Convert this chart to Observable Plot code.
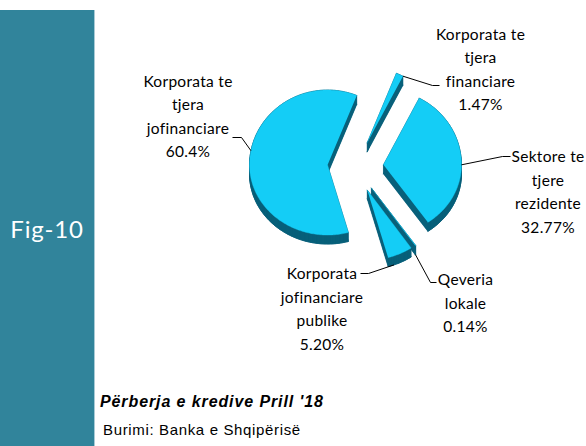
<!DOCTYPE html>
<html><head><meta charset="utf-8">
<script src="https://cdn.jsdelivr.net/npm/d3@7"></script>
<script src="https://cdn.jsdelivr.net/npm/@observablehq/plot@0.6"></script>
<style>
body{margin:0;background:#fff;}
#wrap{position:relative;width:586px;height:446px;overflow:hidden;background:#fff;}
#side{position:absolute;left:0;top:10px;width:94px;height:436px;background:#31849b;border-right:1px solid #a9cbd6;}
#fig{position:absolute;left:0;width:94px;top:214px;text-align:center;color:#fff;font:24px Lato, sans-serif;letter-spacing:0.8px;}
#chart{position:absolute;left:0;top:0;}
#chart text{letter-spacing:0.3px;}
#title{position:absolute;left:100px;top:393px;font:italic bold 16px "Liberation Sans", Arial, sans-serif;letter-spacing:0.9px;color:#000;white-space:nowrap;}
#src{position:absolute;left:103px;top:421px;font:15px "Liberation Sans", Arial, sans-serif;letter-spacing:0.65px;color:#000;white-space:nowrap;}
</style></head><body>
<div id="wrap">
  <div id="side"></div>
  <div id="fig">Fig-10</div>
  <div id="chart"></div>
  <div id="title">Përberja e kredive Prill '18</div>
  <div id="src">Burimi: Banka e Shqipërisë</div>
</div>
<script>
// ---- data ----
const sectors = ["Korporata te tjera financiare", "Sektore te tjere rezidente", "Qeveria lokale", "Korporata jofinanciare publike", "Korporata te tjera jofinanciare"];
const shares = [1.47, 32.77, 0.14, 5.20, 60.4];
const labelLines = [["Korporata te", "tjera", "financiare"], ["Sektore te", "tjere", "rezidente"], ["Qeveria", "lokale"], ["Korporata", "jofinanciare", "publike"], ["Korporata te", "tjera", "jofinanciare"]];
const pctLabels = ["1.47%", "32.77%", "0.14%", "5.20%", "60.4%"];

// ---- layout (pixel space) ----
const L = {cx: 355, cy: 166, rx: 78, ryTop: 75, ryBot: 70, depth: 9, explode: 28, startDeg: 22};
const labelPos = [
  {x: 480, y: 67, anchorDeg: 27.3, side: false, elbow: [432, 85], end: [439, 85]},
  {x: 547.5, y: 189.5, anchorDeg: 90, side: false, elbow: [502, 156], end: [510, 156]},
  {x: 465, y: 300.5, anchorDeg: null, side: true, elbow: [430, 282], end: [436, 282]},
  {x: 321.5, y: 306.5, anchorDeg: 160, side: true, elbow: [368, 273], end: [360, 273]},
  {x: 187.5, y: 114, anchorDeg: 281, side: false, elbow: [241, 137], end: [232, 137]}
];

const rad = Math.PI / 180;
const ryAvg = (L.ryTop + L.ryBot) / 2;
function arcPt(t, r = 1) { // t radians clockwise from 12 o'clock
  const s = Math.sin(t), c = Math.cos(t);
  return [L.rx * r * s, -(c > 0 ? L.ryTop : L.ryBot) * r * c];
}
const arcs = d3.pie().sort(null).startAngle(L.startDeg * rad).endAngle(L.startDeg * rad + 2 * Math.PI)(shares);

const topRows = [], sideRows = [], leaderRows = [], textRows = [];
arcs.forEach((a, i) => {
  const mid = (a.startAngle + a.endAngle) / 2;
  const ox = L.cx + L.explode * Math.sin(mid);
  const oy = L.cy - L.explode * (ryAvg / L.rx) * Math.cos(mid);
  const poly = [[ox, oy]];
  const n = Math.max(2, Math.ceil((a.endAngle - a.startAngle) / rad));
  for (let k = 0; k <= n; k++) {
    const t = a.startAngle + (a.endAngle - a.startAngle) * k / n;
    const p = arcPt(t);
    poly.push([ox + p[0], oy + p[1]]);
  }
  // bottom face + walls
  poly.forEach(p => sideRows.push({x: p[0], y: p[1] + L.depth, id: `b${i}`}));
  for (let k = 0; k < poly.length; k++) {
    const p = poly[k], q = poly[(k + 1) % poly.length];
    const id = `w${i}-${k}`;
    sideRows.push({x: p[0], y: p[1], id}, {x: q[0], y: q[1], id}, {x: q[0], y: q[1] + L.depth, id}, {x: p[0], y: p[1] + L.depth, id});
  }
  poly.forEach(p => topRows.push({x: p[0], y: p[1], id: `t${i}`}));

  // leader
  const lp = labelPos[i];
  const at = lp.anchorDeg == null ? mid : lp.anchorDeg * rad;
  const ap = arcPt(at);
  const anchor = [ox + ap[0], oy + ap[1] + (lp.side ? L.depth : 0)];
  [anchor, lp.elbow, lp.end].forEach(p => leaderRows.push({x: p[0], y: p[1], id: sectors[i]}));
  textRows.push({x: lp.x, y: lp.y, text: labelLines[i].concat([pctLabels[i]]).join("\n"), name: sectors[i]});
});

const chart = Plot.plot({
  width: 586, height: 390, margin: 0,
  x: {domain: [0, 586], range: [0, 586], axis: null},
  y: {domain: [0, 390], range: [0, 390], axis: null},
  style: {background: "transparent", overflow: "visible"},
  marks: [
    Plot.line(sideRows, {x: "x", y: "y", z: "id", fill: "#08607a", stroke: "#08607a", strokeWidth: 0.6}),
    Plot.line(topRows, {x: "x", y: "y", z: "id", fill: "#14cdf6", stroke: "#14cdf6", strokeWidth: 0.4}),
    Plot.line(leaderRows, {x: "x", y: "y", z: "id", stroke: "#000", strokeWidth: 1, strokeLinecap: "butt", strokeLinejoin: "miter"}),
    Plot.text(textRows, {x: "x", y: "y", text: "text", fontSize: 15.5, lineHeight: 1.52, fontFamily: "Lato", textAnchor: "middle", fill: "#000"})
  ]
});
document.getElementById("chart").appendChild(chart);
</script>
</body></html>
